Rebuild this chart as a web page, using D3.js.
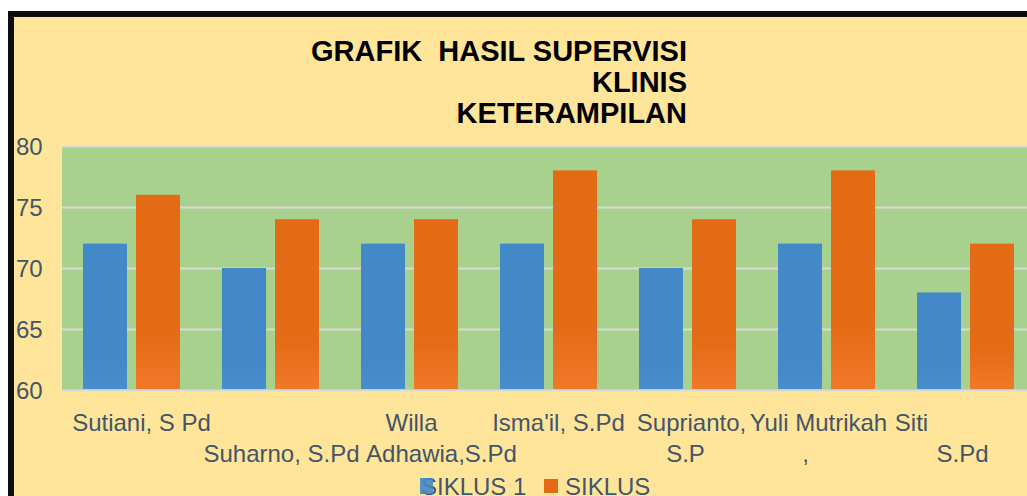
<!DOCTYPE html>
<html>
<head>
<meta charset="utf-8">
<script src="https://cdn.jsdelivr.net/npm/d3@7"></script>
<style>
  html, body { margin: 0; padding: 0; background: #fff; }
  svg { display: block; font-family: "Liberation Sans", Arial, sans-serif; }
</style>
</head>
<body>
<svg id="chart"></svg>
<script>
// data
const categories = ["Sutiani, S Pd", "Suharno, S.Pd", "Willa Adhawia,S.Pd", "Isma'il, S.Pd",
  "Suprianto, S.P", "Yuli Mutrikah ,", "Siti S.Pd"];
const labelLines = [["Sutiani, S Pd"], ["", "Suharno, S.Pd"], ["Willa", "Adhawia,S.Pd"],
  ["Isma'il, S.Pd"], ["Suprianto,", "S.P"], ["Yuli Mutrikah", ","], ["Siti", "S.Pd"]];
const seriesNames = ["SIKLUS 1", "SIKLUS"];
const siklus1 = [72, 70, 72, 72, 70, 72, 68];
const siklus2 = [76, 74, 74, 78, 74, 78, 72];
const yTicks = [60, 65, 70, 75, 80];
const titleLines = ["GRAFIK  HASIL SUPERVISI", "KLINIS", "KETERAMPILAN"];

// layout: per-line horizontal nudges of the wrapped category labels
const labelShift = [[10], [0, 11], [2, 32], [10], [4, -2], [-8, -21], [-54, -3]];

const width = 1027;
const height = 496;
const plotLeft = 62;
const plotTop = 146;
const plotBottom = 390;
const step = 139;
const plotRight = plotLeft + step * categories.length;

const svg = d3.select('#chart')
  .attr('width', width)
  .attr('height', height);

const defs = svg.append('defs');
const gBlue = defs.append('linearGradient').attr('id', 'gBlue')
  .attr('x1', 0).attr('y1', 0).attr('x2', 0).attr('y2', 1);
gBlue.append('stop').attr('offset', '0%').attr('stop-color', '#4388c7');
gBlue.append('stop').attr('offset', '80%').attr('stop-color', '#4388c7');
gBlue.append('stop').attr('offset', '100%').attr('stop-color', '#488ecd');
const gOrange = defs.append('linearGradient').attr('id', 'gOrange')
  .attr('x1', 0).attr('y1', 0).attr('x2', 0).attr('y2', 1);
gOrange.append('stop').attr('offset', '0%').attr('stop-color', '#e46a16');
gOrange.append('stop').attr('offset', '72%').attr('stop-color', '#e56b17');
gOrange.append('stop').attr('offset', '100%').attr('stop-color', '#f07828');

// chart background + thick black frame
svg.append('rect')
  .attr('x', 11).attr('y', 14)
  .attr('width', width + 20).attr('height', height + 20)
  .attr('fill', '#ffe599')
  .attr('stroke', '#0d0d0d')
  .attr('stroke-width', 6);

const x = d3.scaleBand()
  .domain(categories)
  .range([plotLeft, plotRight]);

const xSub = d3.scaleBand()
  .domain(seriesNames)
  .range([21, 118])
  .paddingInner(0.17);

const y = d3.scaleLinear()
  .domain([60, 80])
  .range([plotBottom, plotTop]);

// plot area
svg.append('rect')
  .attr('x', plotLeft).attr('y', plotTop)
  .attr('width', plotRight - plotLeft).attr('height', plotBottom - plotTop)
  .attr('fill', '#a9d18e');

// gridlines
const grid = svg.append('g')
  .attr('transform', `translate(${plotLeft}, 0)`)
  .call(d3.axisLeft(y).tickValues(yTicks).tickSize(-(plotRight - plotLeft)).tickFormat(''));
grid.select('.domain').remove();
grid.selectAll('line').attr('stroke', '#d9d9d9').attr('stroke-width', 2);

// y labels
svg.append('g')
  .selectAll('text')
  .data(yTicks)
  .join('text')
  .attr('x', 16)
  .attr('y', d => y(d))
  .attr('dy', '0.36em')
  .attr('font-size', 24)
  .attr('fill', '#44546a')
  .text(d => d);

// bars
const rows = categories.map((c, i) => ({ cat: c, vals: [siklus1[i], siklus2[i]] }));
const grp = svg.append('g')
  .selectAll('g')
  .data(rows)
  .join('g')
  .attr('transform', d => `translate(${x(d.cat)}, 0)`);

grp.selectAll('rect')
  .data(d => d.vals.map((v, k) => ({ s: seriesNames[k], v })))
  .join('rect')
  .attr('x', d => xSub(d.s))
  .attr('width', xSub.bandwidth())
  .attr('y', d => y(d.v))
  .attr('height', d => plotBottom - 1 - y(d.v))
  .attr('fill', d => d.s === seriesNames[0] ? 'url(#gBlue)' : 'url(#gOrange)');

// category labels (wrapped)
const lab = svg.append('g')
  .selectAll('g')
  .data(categories)
  .join('g');

lab.each(function (c, i) {
  const g = d3.select(this);
  labelLines[i].forEach((line, j) => {
    if (!line) return;
    g.append('text')
      .attr('x', x(c) + x.bandwidth() / 2 + labelShift[i][j])
      .attr('y', 431 + j * 31)
      .attr('text-anchor', 'middle')
      .attr('font-size', 24)
      .attr('fill', '#44546a')
      .text(line);
  });
});

// title
svg.append('g')
  .selectAll('text')
  .data(titleLines)
  .join('text')
  .attr('x', 687)
  .attr('y', (d, i) => [61, 92, 123][i])
  .attr('text-anchor', 'end')
  .attr('font-size', 29)
  .attr('font-weight', 'bold')
  .attr('fill', '#000')
  .style('white-space', 'pre')
  .text(d => d);

// legend
const legend = svg.append('g');
legend.append('text')
  .attr('x', 421).attr('y', 495)
  .attr('font-size', 24).attr('fill', '#44546a')
  .text(seriesNames[0]);
legend.append('rect')
  .attr('x', 420).attr('y', 478).attr('width', 13).attr('height', 16)
  .attr('fill', '#4388c7').attr('opacity', 0.9);
legend.append('rect')
  .attr('x', 544).attr('y', 479).attr('width', 14).attr('height', 14)
  .attr('fill', '#e46a16');
legend.append('text')
  .attr('x', 565).attr('y', 495)
  .attr('font-size', 24).attr('fill', '#44546a')
  .text(seriesNames[1]);
</script>
</body>
</html>
